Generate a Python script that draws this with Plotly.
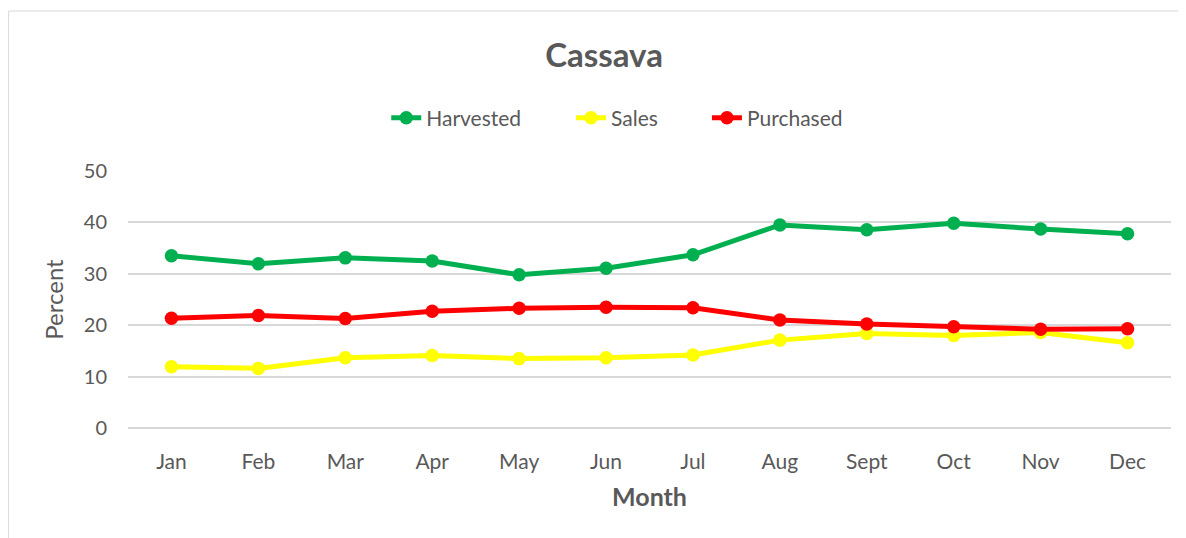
import plotly.graph_objects as go

months = ["Jan", "Feb", "Mar", "Apr", "May", "Jun", "Jul", "Aug", "Sept", "Oct", "Nov", "Dec"]
harvested = [33.5, 31.95, 33.1, 32.5, 29.8, 31.1, 33.7, 39.5, 38.55, 39.85, 38.7, 37.8]
sales = [11.9, 11.6, 13.65, 14.1, 13.5, 13.65, 14.2, 17.1, 18.4, 18.0, 18.6, 16.6]
purchased = [21.35, 21.9, 21.3, 22.7, 23.3, 23.5, 23.4, 21.0, 20.25, 19.7, 19.2, 19.3]
yticks = [0, 10, 20, 30, 40, 50]

FONT = "Lato, 'Open Sans', sans-serif"
GREY = "#595959"

# page body has an 8px margin: figure coords = screen coords - 8
OFF = 8
W, H = 1186 - OFF, 538 - OFF
L = 127.5 - OFF
R = W - (1171.5 - OFF)
T = 171 - OFF
B = H - (428 - OFF)
pw = W - L - R
ph = H - T - B

def px(xs):
    return (xs - OFF - L) / pw

def py(ys):
    return (H - B - (ys - OFF)) / ph

series = [("Harvested", harvested, "#00B050", "legend", 426),
          ("Sales", sales, "#FFFF00", "legend2", 611),
          ("Purchased", purchased, "#FF0000", "legend3", 747)]

fig = go.Figure()
legends = {}
for name, vals, col, lg, text_x in series:
    fig.add_trace(go.Scatter(x=months, y=vals, name=name, mode="lines+markers",
                             line=dict(color=col, width=5),
                             marker=dict(color=col, size=13.5), legend=lg))
    legends[lg] = dict(orientation="h", x=px(text_x - 40), xanchor="left",
                       y=py(118), yanchor="middle", itemwidth=30,
                       font=dict(size=21, color=GREY, family=FONT),
                       bgcolor="rgba(0,0,0,0)", borderwidth=0)

fig.update_layout(
    width=W, height=H,
    margin=dict(l=L, r=R, t=T, b=B),
    paper_bgcolor="white", plot_bgcolor="white",
    font=dict(family=FONT, color=GREY, size=20),
    title=dict(text="<b>Cassava</b>", x=px(604), xref="paper", xanchor="center",
               y=1 - (55 - OFF) / H, yanchor="middle", font=dict(size=33, color=GREY, family=FONT)),
    showlegend=True,
    **legends,
)
fig.update_xaxes(range=[-0.5, 11.5], showgrid=False, showline=False, ticks="", ticklabelstandoff=19,
                 tickfont=dict(size=21, color=GREY),
                 title=dict(text="<b>Month</b>", font=dict(size=25, color=GREY), standoff=16))
fig.update_yaxes(range=[0, 50], tickvals=yticks, showgrid=True, gridcolor="#D9D9D9",
                 gridwidth=1.5, zeroline=True, zerolinecolor="#D9D9D9", zerolinewidth=1.5,
                 showline=False, ticks="", ticklabelstandoff=20,
                 tickfont=dict(size=20, color=GREY),
                 title=dict(text="Percent", font=dict(size=24, color=GREY), standoff=13))

fig.add_shape(type="rect", xref="paper", yref="paper",
              x0=px(8), x1=px(1200),
              y0=py(560), y1=py(11),
              line=dict(color="#D9D9D9", width=1), fillcolor="rgba(0,0,0,0)", layer="below")

fig.write_html("out.html")
